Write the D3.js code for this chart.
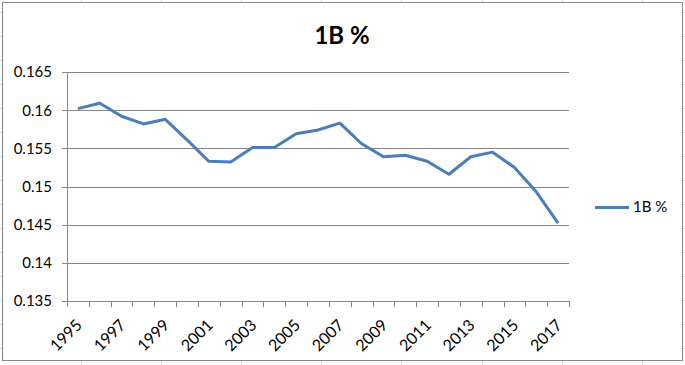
<!DOCTYPE html>
<html>
<head>
<meta charset="utf-8">
<script src="https://cdn.jsdelivr.net/npm/d3@7"></script>
<style>
  body { margin: 0; background: #fff; }
  text { font-family: Lato, "Open Sans", sans-serif; fill: #000; }
</style>
</head>
<body>
<script>
let w = 685;
let h = 365;

// data
let years = d3.range(1995, 2018).map(String);
let values = [0.1602, 0.1609, 0.1592, 0.1582, 0.1588, 0.1561, 0.1533, 0.1532,
              0.1551, 0.1551, 0.1569, 0.1574, 0.1583, 0.1556, 0.1539, 0.1541,
              0.1533, 0.1516, 0.1539, 0.1545, 0.1525, 0.1493, 0.1452];
let yTicks = [0.135, 0.14, 0.145, 0.15, 0.155, 0.16, 0.165];
let yTickLabels = ["0.135", "0.14", "0.145", "0.15", "0.155", "0.16", "0.165"];
let xLabelYears = years.filter((d, i) => i % 2 == 0);
let seriesName = "1B %";
let title = "1B %";

let lineColor = "#4a7ebb";
let gridColor = "#868686";

let svg = d3.select("body")
            .append("svg")
            .attr("width", w)
            .attr("height", h);

// spreadsheet cells behind the chart
let sheet = svg.append("g").attr("stroke", "#dadcdd").attr("stroke-width", 1);
sheet.selectAll("line.col")
     .data(d3.range(80.5, w, 80.2))
     .enter()
     .append("line")
     .attr("x1", d => Math.round(d) + 0.5).attr("x2", d => Math.round(d) + 0.5)
     .attr("y1", 0).attr("y2", h);
sheet.selectAll("line.row")
     .data(d3.range(12.5, h, 24))
     .enter()
     .append("line")
     .attr("x1", 0).attr("x2", w)
     .attr("y1", d => d).attr("y2", d => d);

// chart area
svg.append("rect")
   .attr("x", 2.5).attr("y", 2.5)
   .attr("width", 680).attr("height", 358)
   .attr("fill", "#fff")
   .attr("stroke", "#898989");

let x = d3.scaleBand()
          .domain(years)
          .range([67, 569]);

let y = d3.scaleLinear()
          .domain([0.135, 0.165])
          .range([301, 72]);

// gridlines
svg.append("g")
   .selectAll("line")
   .data(yTicks)
   .enter()
   .append("line")
   .attr("x1", 62).attr("x2", 569)
   .attr("y1", d => Math.round(y(d)) + 0.5)
   .attr("y2", d => Math.round(y(d)) + 0.5)
   .attr("stroke", gridColor);

// y axis
svg.append("line")
   .attr("x1", 67.5).attr("x2", 67.5)
   .attr("y1", 72).attr("y2", 302)
   .attr("stroke", gridColor);

svg.append("g")
   .selectAll("text")
   .data(yTicks)
   .enter()
   .append("text")
   .attr("x", 52)
   .attr("y", d => y(d))
   .attr("dy", "0.36em")
   .attr("text-anchor", "end")
   .style("font-size", "15px")
   .text((d, i) => yTickLabels[i]);

// x tick marks between categories
let bounds = years.map(d => x(d)).concat([x.range()[1]]);
svg.append("g")
   .selectAll("line")
   .data(bounds)
   .enter()
   .append("line")
   .attr("x1", d => Math.round(d) + 0.5).attr("x2", d => Math.round(d) + 0.5)
   .attr("y1", 301).attr("y2", 307)
   .attr("stroke", gridColor);

let cx = d => x(d) + x.bandwidth() / 2;

svg.append("g")
   .selectAll("text")
   .data(xLabelYears)
   .enter()
   .append("text")
   .attr("transform", d => "translate(" + (cx(d) + 1) + ",322) rotate(-45)")
   .attr("text-anchor", "end")
   .attr("dy", "0.36em")
   .style("font-size", "16px")
   .text(d => d);

// series line
let line = d3.line()
             .x((d, i) => cx(years[i]))
             .y(d => y(d));

svg.append("path")
   .datum(values)
   .attr("d", line)
   .attr("fill", "none")
   .attr("stroke", lineColor)
   .attr("stroke-width", 3)
   .attr("stroke-linejoin", "round");

// title
svg.append("text")
   .attr("x", 342)
   .attr("y", 44)
   .attr("text-anchor", "middle")
   .style("font-size", "24px")
   .style("font-weight", "bold")
   .text(title);

// legend
svg.append("line")
   .attr("x1", 595).attr("x2", 629)
   .attr("y1", 207.5).attr("y2", 207.5)
   .attr("stroke", lineColor)
   .attr("stroke-width", 3);

svg.append("text")
   .attr("x", 633)
   .attr("y", 207)
   .attr("dy", "0.36em")
   .style("font-size", "15px")
   .text(seriesName);
</script>
</body>
</html>
